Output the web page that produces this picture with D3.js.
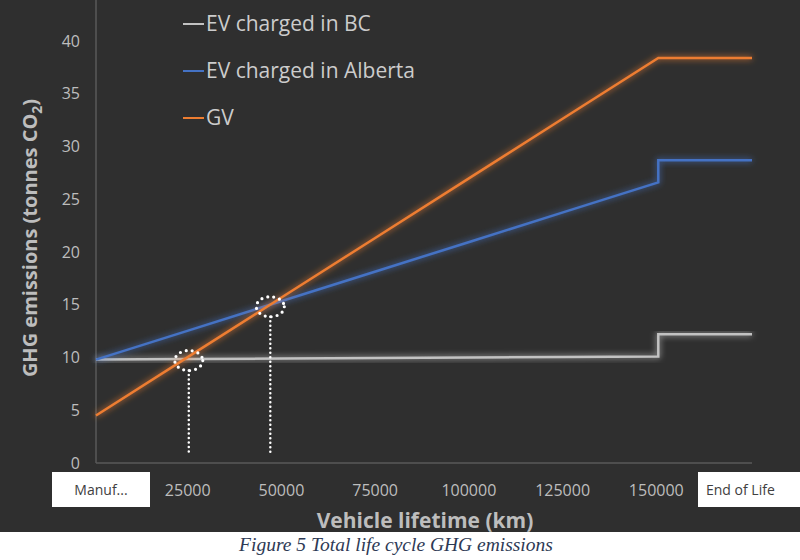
<!DOCTYPE html>
<html>
<head>
<meta charset="utf-8">
<script src="https://cdn.jsdelivr.net/npm/d3@7"></script>
<style>
  body { margin: 0; background: #fff; }
  svg { display: block; }
</style>
</head>
<body>
<div id="chart"></div>
<script>
// categories along the x axis (Excel-style line chart, points on the edges)
var categories = ["Manuf...", "25000", "50000", "75000", "100000", "125000", "150000", "End of Life"];
var bcValues = [9.8, 9.85, 9.9, 9.95, 10.0, 10.05, 10.1, 12.2];
var albertaValues = [9.8, 12.6, 15.4, 18.2, 21.0, 23.8, 26.6, 28.7];
var gvValues = [4.5, 10.15, 15.8, 21.45, 27.1, 32.75, 38.4, 38.4];
var yTicks = [0, 5, 10, 15, 20, 25, 30, 35, 40];
var seriesNames = ["EV charged in BC", "EV charged in Alberta", "GV"];
// crossing points marked with dotted circles (category index, value)
var crossings = [[0.99, 9.9], [1.86, 15.0]];

const W = 800, H = 560;
const margin = ({ top: 0, right: 48, bottom: 97, left: 96 });
const plotW = W - margin.left - margin.right;
const plotH = H - margin.top - margin.bottom;

var svg = d3.select("#chart").append("svg")
    .attr("width", W)
    .attr("height", H);

var defs = svg.append("defs");
var glow = defs.append("filter").attr("id", "glow")
    .attr("x", "-10%").attr("y", "-10%").attr("width", "120%").attr("height", "120%");
glow.append("feGaussianBlur").attr("in", "SourceGraphic").attr("stdDeviation", 3).attr("result", "blur");
var merge = glow.append("feMerge");
merge.append("feMergeNode").attr("in", "blur");
merge.append("feMergeNode").attr("in", "SourceGraphic");

// dark chart background, white strip with caption below
svg.append("rect").attr("width", W).attr("height", 532).attr("fill", "#2f2f2f");

var x = d3.scalePoint().domain(categories).range([0, plotW]).padding(0);
var y = d3.scaleLinear().domain([0, 40]).range([plotH, plotH - 40 * 10.55]);
var xi = d3.scaleLinear().domain([0, categories.length - 1]).range([0, plotW]);

var g = svg.append("g").attr("transform", `translate(${margin.left}, ${margin.top})`);

// axes lines
g.append("line").attr("x1", 0).attr("x2", 0).attr("y1", 0).attr("y2", plotH)
    .attr("stroke", "#5a5a5a").attr("stroke-width", 1.5);
g.append("line").attr("x1", 0).attr("x2", plotW).attr("y1", plotH).attr("y2", plotH)
    .attr("stroke", "#5a5a5a").attr("stroke-width", 1.5);

// y tick labels
g.selectAll(".ytick")
    .data(yTicks)
    .enter()
    .append("text")
    .attr("x", -16)
    .attr("y", d => y(d))
    .attr("dy", "0.35em")
    .attr("text-anchor", "end")
    .attr("font-family", "Open Sans, sans-serif")
    .attr("font-size", 16)
    .attr("fill", "#bdbdbd")
    .text(d => d);

// x tick labels (first and last sit in white boxes)
var xLabels = g.selectAll(".xtick")
    .data(categories)
    .enter()
    .append("g")
    .attr("transform", d => `translate(${x(d)}, ${plotH + 27})`);

xLabels.filter((d, i) => i == 0).append("rect")
    .attr("x", -44).attr("y", -18).attr("width", 98).attr("height", 35).attr("fill", "#fff");
xLabels.filter((d, i) => i == categories.length - 1).append("rect")
    .attr("x", -54).attr("y", -18).attr("width", 110).attr("height", 35).attr("fill", "#fff");

xLabels.append("text")
    .attr("x", (d, i) => i == 0 ? 5 : (i == categories.length - 1 ? -46 : -2))
    .attr("dy", "0.35em")
    .attr("text-anchor", (d, i) => i == categories.length - 1 ? "start" : "middle")
    .attr("font-family", "Open Sans, sans-serif")
    .attr("font-size", (d, i) => (i == 0 || i == categories.length - 1) ? 14 : 16)
    .attr("fill", (d, i) => (i == 0 || i == categories.length - 1) ? "#404040" : "#bdbdbd")
    .text(d => d);

// lines: straight up to 150000, then a vertical step and flat to End of Life
function stepPoints(values) {
    var n = values.length;
    var pts = values.slice(0, n - 1).map((v, i) => [x(categories[i]), y(v)]);
    pts.push([x(categories[n - 2]), y(values[n - 1])]);
    pts.push([x(categories[n - 1]), y(values[n - 1])]);
    return pts;
}

var series = [
    { name: seriesNames[0], values: bcValues, color: "#c2c2c2" },
    { name: seriesNames[1], values: albertaValues, color: "#4472c4" },
    { name: seriesNames[2], values: gvValues, color: "#ed7d31" }
];

var line = d3.line();
g.selectAll(".series")
    .data(series)
    .enter()
    .append("path")
    .attr("d", d => line(stepPoints(d.values)))
    .attr("fill", "none")
    .attr("stroke", d => d.color)
    .attr("stroke-width", 2.5)
    .attr("filter", "url(#glow)");

// dotted annotations at the crossing points
var ann = g.selectAll(".cross")
    .data(crossings)
    .enter()
    .append("g");

ann.append("ellipse")
    .attr("cx", d => xi(d[0]))
    .attr("cy", d => y(d[1]) + 2)
    .attr("rx", 14)
    .attr("ry", 10)
    .attr("fill", "none")
    .attr("stroke", "#fff")
    .attr("stroke-width", 3.2)
    .attr("stroke-linecap", "round")
    .attr("stroke-dasharray", "0 6");

ann.append("line")
    .attr("x1", d => xi(d[0]))
    .attr("x2", d => xi(d[0]))
    .attr("y1", d => y(d[1]) + 12)
    .attr("y2", plotH - 11)
    .attr("stroke", "#fff")
    .attr("stroke-width", 2.5)
    .attr("stroke-linecap", "round")
    .attr("stroke-dasharray", "0 4.5");

// legend
var legend = svg.append("g").attr("transform", "translate(183, 24)");
var items = legend.selectAll("g")
    .data(series)
    .enter()
    .append("g")
    .attr("transform", (d, i) => `translate(0, ${i * 47})`);
items.append("line").attr("x1", 0).attr("x2", 21)
    .attr("stroke", d => d.color).attr("stroke-width", 2);
items.append("text")
    .attr("x", 23)
    .attr("dy", "0.35em")
    .attr("font-family", "Open Sans, sans-serif")
    .attr("font-size", 21)
    .attr("fill", "#cccccc")
    .text(d => d.name);

// axis titles
var yTitle = svg.append("text")
    .attr("transform", "translate(37, 238) rotate(-90)")
    .attr("text-anchor", "middle")
    .attr("font-family", "Open Sans, sans-serif")
    .attr("font-weight", "bold")
    .attr("font-size", 20)
    .attr("fill", "#bdbdbd");
yTitle.append("tspan").text("GHG emissions (tonnes CO");
yTitle.append("tspan").attr("font-size", 14).attr("dy", 5).text("2");
yTitle.append("tspan").attr("dy", -5).text(")");

svg.append("text")
    .attr("x", 425)
    .attr("y", 528)
    .attr("text-anchor", "middle")
    .attr("font-family", "Open Sans, sans-serif")
    .attr("font-weight", "bold")
    .attr("font-size", 21)
    .attr("fill", "#bdbdbd")
    .text("Vehicle lifetime (km)");

// caption strip
svg.append("rect").attr("y", 532).attr("width", W).attr("height", H - 532).attr("fill", "#fff");
svg.append("text")
    .attr("x", 396)
    .attr("y", 551)
    .attr("text-anchor", "middle")
    .attr("font-family", "Liberation Serif, serif")
    .attr("font-style", "italic")
    .attr("font-size", 19.5)
    .attr("fill", "#2e3a55")
    .text("Figure 5 Total life cycle GHG emissions");
</script>
</body>
</html>
